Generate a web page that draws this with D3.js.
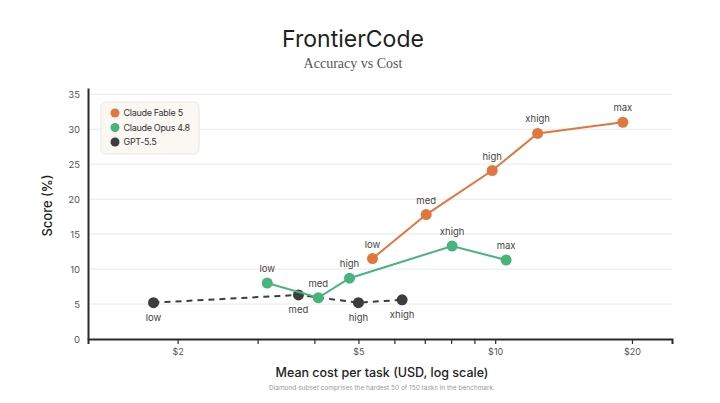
<!DOCTYPE html>
<html>
<head>
<meta charset="utf-8">
<script src="https://cdn.jsdelivr.net/npm/d3@7"></script>
<style>
  body { margin: 0; background: #fff; }
  text { font-family: "Inter", "Noto Sans", sans-serif; }
</style>
</head>
<body>
<div class="chart"></div>
<script>
// effort levels per model
var fableLevels = ["low", "med", "high", "xhigh", "max"];
var fableCost = [5.37, 7.05, 9.85, 12.4, 19.1];
var fableScore = [11.5, 17.8, 24.1, 29.4, 31.0];

var opusLevels = ["low", "med", "high", "xhigh", "max"];
var opusCost = [3.15, 4.08, 4.78, 8.04, 10.57];
var opusScore = [8.0, 5.9, 8.7, 13.3, 11.3];

var gptLevels = ["low", "med", "high", "xhigh"];
var gptCost = [1.77, 3.69, 5.0, 6.24];
var gptScore = [5.2, 6.3, 5.2, 5.6];

var xTickValues = [2, 3, 4, 5, 6, 7, 8, 9, 10, 20];
var xTickLabels = {2: "$2", 5: "$5", 10: "$10", 20: "$20"};
var yTickValues = [0, 5, 10, 15, 20, 25, 30, 35];

var W = 720, H = 403;
var margin = {top: 88, right: 48, bottom: 64, left: 88};
var width = W - margin.left - margin.right,
    height = H - margin.top - margin.bottom;

var root = d3.select(".chart").append("svg")
    .attr("width", W)
    .attr("height", H);

root.append("text")
    .attr("x", 353).attr("y", 47)
    .attr("text-anchor", "middle")
    .attr("font-size", "23px")
    .attr("fill", "#1f1f1f")
    .text("FrontierCode");

root.append("text")
    .attr("x", 353).attr("y", 68)
    .attr("text-anchor", "middle")
    .attr("font-size", "14px")
    .attr("fill", "#555")
    .style("font-family", "'Liberation Serif', 'DejaVu Serif', serif")
    .text("Accuracy vs Cost");

var svg = root.append("g")
    .attr("transform", "translate(" + margin.left + "," + margin.top + ")");

const xScale = d3.scaleLog()
    .domain([1.27, 24.5])
    .range([0, width]);

const yScale = d3.scaleLinear()
    .domain([0, 35.9])
    .range([height, 0]);

// grid
svg.append("g")
    .selectAll("line")
    .data(yTickValues.slice(1))
    .enter().append("line")
    .attr("x1", 0).attr("x2", width)
    .attr("y1", d => yScale(d)).attr("y2", d => yScale(d))
    .attr("stroke", "#e9e9e9")
    .attr("stroke-width", 1);

const xAxis = d3.axisBottom(xScale)
    .tickValues(xTickValues)
    .tickSize(5)
    .tickFormat(d => xTickLabels[d] || "");

const xAxisGroup = svg.append("g")
    .attr("class", "axis x-axis")
    .attr("transform", `translate(0, ${height})`)
    .call(xAxis);
xAxisGroup.select(".domain").attr("stroke", "#2a2a2a").attr("stroke-width", 2);
xAxisGroup.selectAll(".tick line").attr("stroke", "#2a2a2a").attr("stroke-width", 1.2);
xAxisGroup.selectAll(".tick text")
    .attr("font-size", "9px")
    .attr("fill", "#555")
    .attr("dy", "0.9em")
    .style("font-family", "Inter, sans-serif");

const yAxis = d3.axisLeft(yScale)
    .tickValues(yTickValues)
    .tickSize(0)
    .tickPadding(8);

const yAxisGroup = svg.append("g")
    .attr("class", "axis y-axis")
    .call(yAxis);
yAxisGroup.select(".domain").attr("stroke", "#2a2a2a").attr("stroke-width", 2);
yAxisGroup.selectAll(".tick text")
    .attr("font-size", "9.5px")
    .attr("fill", "#555")
    .style("font-family", "Inter, sans-serif");

svg.append("text")
    .attr("transform", "rotate(-90)")
    .attr("x", -height / 2 + 8)
    .attr("y", -36)
    .attr("text-anchor", "middle")
    .attr("font-size", "13px")
    .attr("font-weight", 500)
    .attr("fill", "#222")
    .text("Score (%)");

svg.append("text")
    .attr("x", 294)
    .attr("y", height + 38)
    .attr("text-anchor", "middle")
    .attr("font-size", "12.5px")
    .attr("font-weight", 500)
    .attr("fill", "#222")
    .text("Mean cost per task (USD, log scale)");

svg.append("text")
    .attr("x", 294)
    .attr("y", height + 51)
    .attr("text-anchor", "middle")
    .attr("font-size", "6.5px")
    .attr("fill", "#999")
    .text("Diamond subset comprises the hardest 50 of 150 tasks in the benchmark.");

var series = [
    {name: "Claude Fable 5", color: "#e0773f", dash: null, side: "top",
     data: fableLevels.map((l, i) => ({level: l, cost: fableCost[i], score: fableScore[i]}))},
    {name: "Claude Opus 4.8", color: "#48b47d", dash: null, side: "top",
     data: opusLevels.map((l, i) => ({level: l, cost: opusCost[i], score: opusScore[i]}))},
    {name: "GPT-5.5", color: "#3d3d3d", dash: "6,5", side: "bottom",
     data: gptLevels.map((l, i) => ({level: l, cost: gptCost[i], score: gptScore[i]}))}
];

const line = d3.line()
    .x(d => xScale(d.cost))
    .y(d => yScale(d.score));

// draw GPT first so the Claude lines sit on top
series.slice().reverse().forEach(function(s) {
    svg.append("path")
        .datum(s.data)
        .attr("fill", "none")
        .attr("stroke", s.color)
        .attr("stroke-width", 2)
        .attr("stroke-dasharray", s.dash)
        .attr("d", line);

    svg.append("g")
        .selectAll("circle")
        .data(s.data)
        .enter().append("circle")
        .attr("cx", d => xScale(d.cost))
        .attr("cy", d => yScale(d.score))
        .attr("r", 5.5)
        .attr("fill", s.color);

    svg.append("g")
        .selectAll("text")
        .data(s.data)
        .enter().append("text")
        .attr("x", d => xScale(d.cost))
        .attr("y", d => yScale(d.score))
        .attr("dy", s.side == "top" ? -11 : 18)
        .attr("text-anchor", "middle")
        .attr("font-size", "9.5px")
        .attr("fill", "#444")
        .text(d => d.level);
});

// legend
var legend = svg.append("g")
    .attr("transform", "translate(13, 14)");

legend.append("rect")
    .attr("width", 98)
    .attr("height", 52)
    .attr("rx", 5)
    .attr("fill", "#faf8f3")
    .attr("stroke", "#ebe7df");

var items = legend.selectAll("g.item")
    .data(series)
    .enter().append("g")
    .attr("class", "item")
    .attr("transform", (d, i) => `translate(14, ${11 + i * 14.5})`);

items.append("circle")
    .attr("r", 4.5)
    .attr("fill", d => d.color);

items.append("text")
    .attr("x", 8.5)
    .attr("dy", "0.35em")
    .attr("font-size", "9px")
    .attr("letter-spacing", "-0.3px")
    .attr("fill", "#333")
    .text(d => d.name);
</script>
</body>
</html>
